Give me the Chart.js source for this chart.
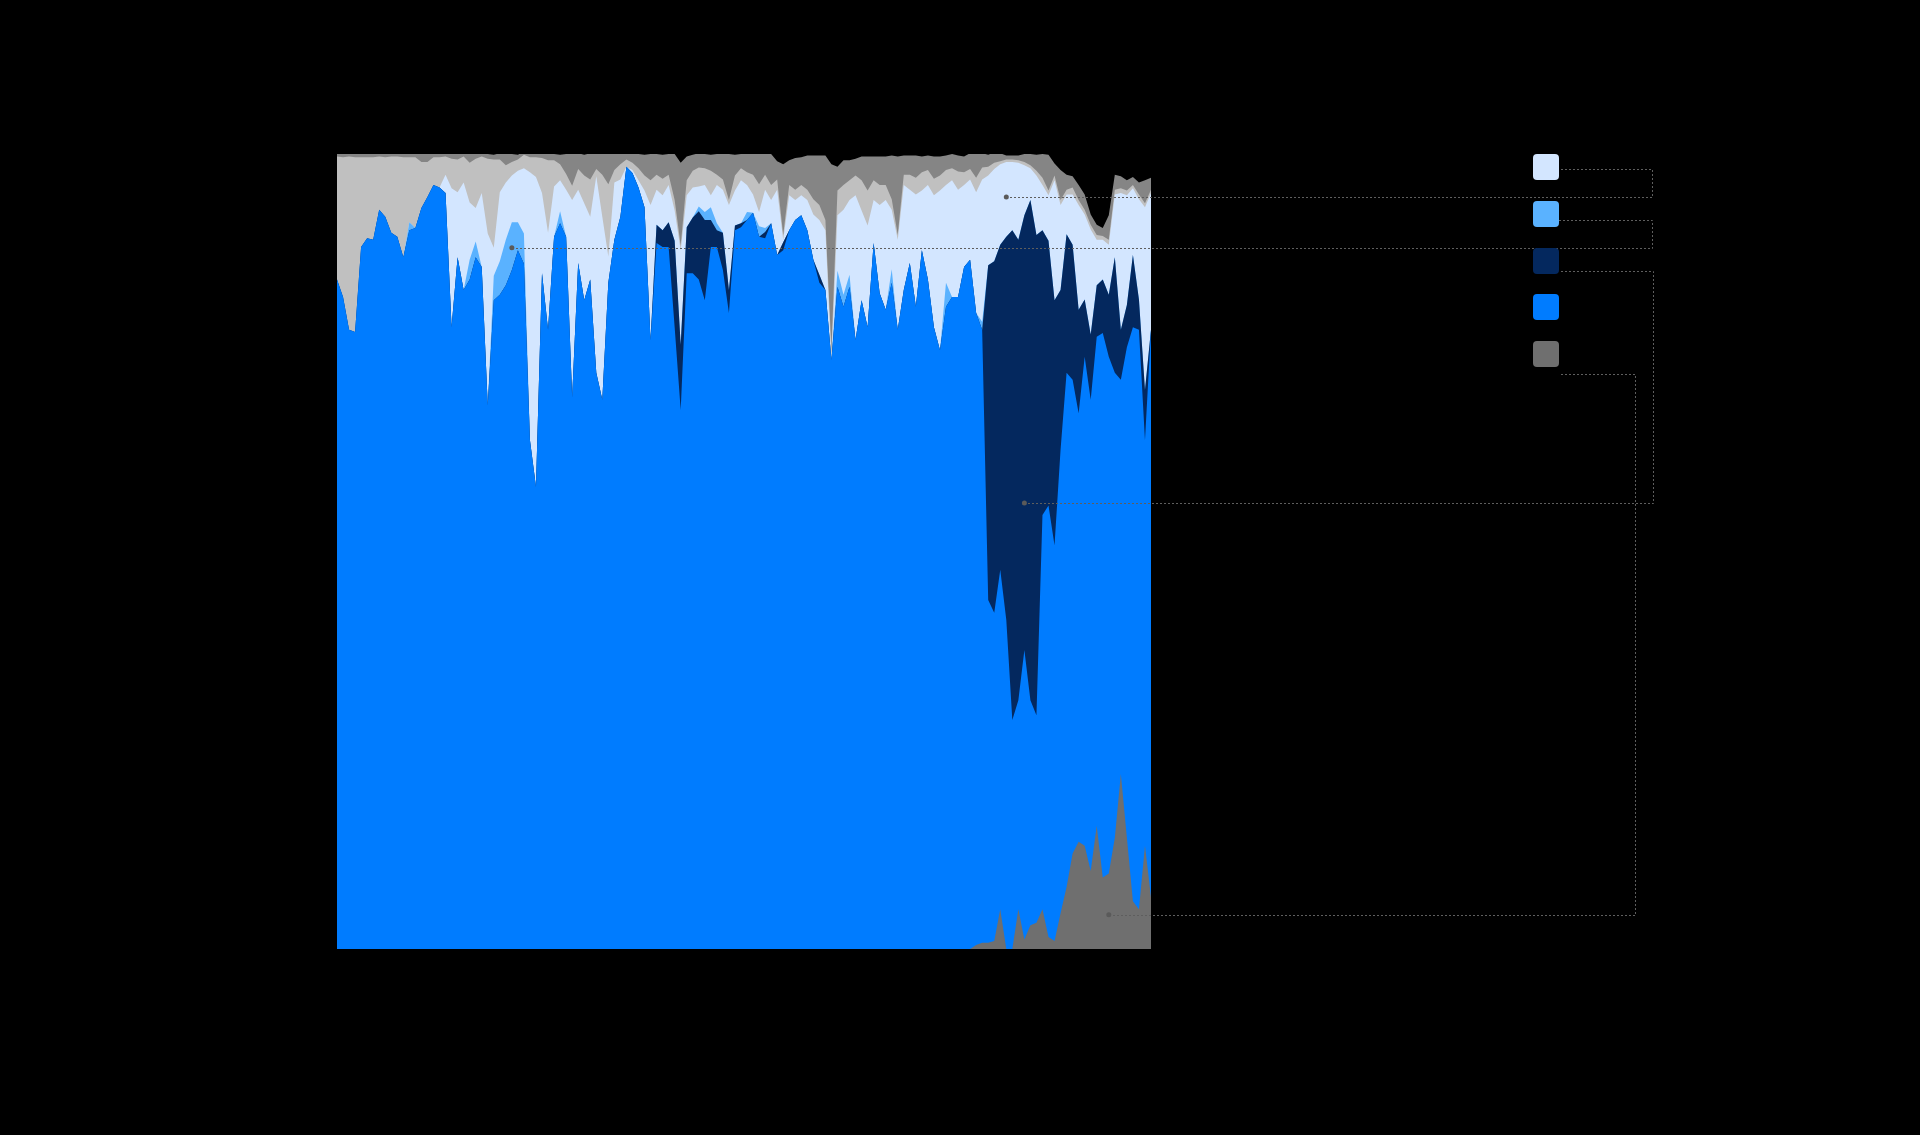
<!DOCTYPE html>
<html>
<head>
<meta charset="utf-8">
<style>
  html, body { margin: 0; padding: 0; background: #000; }
  canvas { display: block; }
</style>
<script src="https://cdn.jsdelivr.net/npm/chart.js@4/dist/chart.umd.min.js"></script>
</head>
<body>
<canvas id="areaChart" width="1920" height="1135"></canvas>
<script>
// Share of the total per sample (%), bottom layer first
var gray = [
  0, 0, 0, 0, 0, 0, 0, 0, 0, 0,
  0, 0, 0, 0, 0, 0, 0, 0, 0, 0,
  0, 0, 0, 0, 0, 0, 0, 0, 0, 0,
  0, 0, 0, 0, 0, 0, 0, 0, 0, 0,
  0, 0, 0, 0, 0, 0, 0, 0, 0, 0,
  0, 0, 0, 0, 0, 0, 0, 0, 0, 0,
  0, 0, 0, 0, 0, 0, 0, 0, 0, 0,
  0, 0, 0, 0, 0, 0, 0, 0, 0, 0,
  0, 0, 0, 0, 0, 0, 0, 0, 0, 0,
  0, 0, 0, 0, 0, 0, 0, 0, 0, 0,
  0, 0, 0, 0, 0, 0, 0.5, 0.8, 0.8, 1.0,
  5.0, 0, 0, 5.0, 1.2, 3.0, 3.3, 5.0, 1.5, 1.0,
  4.5, 7.8, 12.0, 13.5, 13.0, 9.8, 15.5, 9.0, 9.5, 14.0,
  22.0, 14.0, 6.0, 5.0, 13.0, 6.5
];
var blue = [
  84.2, 82.0, 77.9, 77.6, 88.3, 89.4, 89.2, 93.0, 92.1, 90.1,
  89.6, 87.0, 90.4, 90.7, 93.2, 94.6, 96.1, 95.8, 95.1, 78.2,
  87.0, 82.9, 84.2, 87.0, 85.8, 68.4, 81.6, 82.3, 83.5, 85.4,
  87.9, 86.2, 64.0, 58.1, 85.0, 77.9, 89.6, 91.3, 89.6, 69.4,
  86.3, 81.6, 84.2, 72.5, 69.1, 83.8, 89.2, 92.1, 98.4, 97.6,
  95.8, 93.3, 76.6, 88.8, 88.3, 88.3, 78.2, 67.8, 85.0, 85.0,
  84.2, 81.6, 88.3, 88.3, 85.4, 80.0, 90.4, 90.8, 91.7, 92.6,
  89.6, 89.4, 91.3, 87.3, 87.9, 90.4, 91.7, 92.3, 90.4, 86.7,
  83.8, 82.9, 74.1, 83.3, 80.8, 83.3, 76.6, 81.6, 78.2, 88.8,
  82.5, 80.4, 83.8, 77.9, 82.9, 86.3, 80.8, 87.9, 84.2, 78.2,
  75.3, 80.8, 82.0, 82.0, 85.8, 86.7, 79.5, 77.1, 43.1, 41.3,
  42.7, 41.4, 28.8, 26.3, 36.4, 28.3, 26.1, 49.6, 54.3, 49.8,
  58.3, 64.7, 59.6, 53.9, 61.5, 59.3, 61.5, 68.5, 65.0, 58.5,
  49.6, 61.7, 72.2, 72.9, 51.0, 71.4
];
var navy = [
  0, 0, 0, 0, 0, 0, 0, 0, 0, 0,
  0, 0, 0, 0, 0, 0, 0, 0, 0, 0,
  0, 0, 0, 0, 0, 0, 0, 0, 0, 0,
  0, 0, 0, 0, 0, 0, 0, 0, 0, 0,
  0, 0, 0, 0, 0, 0, 0, 0, 0, 0,
  0, 0, 0, 2.3, 2.1, 3.1, 10.9, 8.2, 5.8, 7.0,
  8.6, 10.1, 3.4, 2.1, 4.7, 2.9, 0.6, 0.5, 0, 0,
  0, 0.8, 0, 0, 1.0, 0, 0, 0, 0, 0,
  1.0, 0, 0, 0, 0, 0, 0, 0, 0, 0,
  0, 0, 0, 0, 0, 0, 0, 0, 0, 0,
  0, 0, 0, 0, 0, 0, 0, 0, 42.1, 44.2,
  40.9, 48.2, 61.6, 57.9, 54.7, 62.9, 60.4, 35.8, 33.3, 30.8,
  20.1, 17.4, 17.0, 13.0, 7.2, 8.2, 6.5, 6.7, 7.8, 14.5,
  6.3, 5.3, 9.1, 3.8, 6.3, 0
];
var lightBlue = [
  0, 0, 0, 0, 0, 0, 0, 0, 0, 0,
  0, 0, 1.0, 0, 0, 0, 0, 0, 0, 0,
  0, 0, 2.5, 2.0, 0, 0, 3.1, 4.2, 5.7, 6.0,
  3.5, 3.8, 0, 0, 0, 0, 0, 1.5, 0, 0,
  0, 0, 0, 0, 0, 0, 0, 0, 0, 0,
  0, 0, 0, 0, 0, 0, 0, 0, 0, 0,
  0.6, 1.0, 1.6, 0.9, 0, 0, 0, 0, 1.0, 0,
  1.3, 0.5, 0, 0, 0, 0, 0, 0, 0, 0,
  0, 0, 0, 2.0, 1.5, 1.5, 0, 0, 0, 0,
  0, 0, 1.7, 0, 0, 0, 0, 0, 0, 0,
  0, 3.0, 0, 0, 0, 0, 0, 1.0, 0, 0,
  0, 0, 0, 0, 0, 0, 0, 0, 0, 0,
  0, 0, 0, 0, 0, 0, 0, 0, 0, 0,
  0, 0, 0, 0, 0, 0
];
var veryLight = [
  0, 0, 0, 0, 0, 0, 0, 0, 0, 0,
  0, 0, 0, 0, 0, 0, 0, 0, 2.3, 17.5,
  8.2, 13.5, 7.2, 4.2, 9.3, 21.6, 3.5, 8.7, 7.2, 5.9,
  6.5, 8.2, 33.7, 39.0, 10.1, 12.2, 6.3, 3.9, 5.9, 24.8,
  9.2, 12.2, 7.9, 24.7, 23.0, 3.3, 7.2, 4.7, 0, 0.4,
  0.9, 2.1, 17.0, 4.4, 4.4, 4.7, 3.8, 11.9, 4.0, 3.8,
  2.5, 3.4, 1.5, 4.8, 5.4, 10.7, 4.4, 5.4, 3.4, 2.3,
  1.8, 4.8, 2.9, 8.2, 0.3, 4.4, 2.5, 2.5, 3.8, 5.7,
  6.9, 7.5, 0, 7.0, 10.7, 9.4, 18.2, 11.3, 12.8, 5.4,
  11.1, 13.8, 7.5, 11.3, 13.2, 9.2, 14.1, 7.5, 11.9, 16.6,
  20.1, 12.3, 14.7, 13.5, 10.3, 10.1, 15.2, 17.9, 11.3, 11.6,
  10.1, 9.4, 8.6, 9.7, 6.3, 4.0, 7.5, 5.7, 5.7, 15.1,
  10.7, 5.0, 6.3, 13.2, 10.7, 13.2, 5.7, 5.0, 6.3, 7.9,
  17.2, 13.8, 8.4, 12.6, 23.0, 17.2
];
var lightGray = [
  15.5, 17.6, 21.8, 22.0, 11.3, 10.2, 10.4, 6.7, 7.5, 9.6,
  10.1, 12.6, 8.2, 8.9, 5.8, 4.4, 3.5, 3.8, 2.3, 3.7,
  4.1, 3.3, 5.0, 6.2, 4.6, 9.4, 11.1, 4.1, 2.2, 1.7,
  1.4, 1.7, 1.9, 2.5, 4.4, 9.1, 3.3, 2.0, 2.0, 1.8,
  2.6, 3.5, 4.7, 0.9, 5.3, 9.1, 1.6, 1.9, 0.9, 0.9,
  1.5, 1.9, 3.1, 1.9, 2.1, 1.3, 1.3, 0.6, 1.9, 2.1,
  2.4, 2.1, 3.1, 1.3, 1.3, 0.6, 1.9, 1.5, 1.6, 2.5,
  3.5, 1.9, 1.9, 1.3, 0.6, 1.3, 1.3, 1.3, 1.3, 1.9,
  1.9, 1.3, 1.3, 3.1, 3.1, 2.5, 2.5, 3.8, 4.4, 2.5,
  2.5, 1.9, 1.3, 0.6, 1.3, 1.9, 2.1, 2.3, 1.9, 2.1,
  1.9, 1.9, 1.5, 2.3, 1.6, 1.3, 1.8, 1.5, 1.1, 0.8,
  0.4, 0.3, 0.3, 0.3, 0.4, 0.4, 0.6, 0.9, 0.6, 0.6,
  0.6, 0.6, 0.9, 0.6, 0.6, 0.6, 0.6, 0.5, 0.6, 0.6,
  0.6, 0.6, 0.4, 0.6, 0.5, 0.4
];
var midGray = [
  0.4, 0.4, 0.4, 0.4, 0.4, 0.4, 0.4, 0.4, 0.4, 0.4,
  0.4, 0.4, 0.4, 0.4, 1.0, 1.0, 0.4, 0.4, 0.4, 0.6,
  0.7, 0.4, 1.2, 0.6, 0.4, 0.6, 0.6, 0.8, 1.5, 1.0,
  0.6, 0.4, 0.4, 0.4, 0.5, 0.8, 0.8, 1.2, 2.5, 4.0,
  2.0, 2.6, 3.3, 2.0, 2.6, 3.9, 2.0, 1.4, 0.8, 1.1,
  1.8, 2.6, 3.3, 2.6, 3.0, 2.6, 5.8, 10.4, 3.0, 2.0,
  1.8, 1.8, 2.0, 2.6, 3.3, 5.8, 2.6, 1.8, 2.3, 2.6,
  3.9, 2.6, 3.9, 2.3, 8.9, 3.1, 4.0, 3.5, 4.3, 5.5,
  6.2, 8.1, 23.3, 3.0, 3.1, 2.5, 2.1, 3.0, 4.3, 3.0,
  3.6, 3.6, 5.5, 9.9, 2.4, 2.4, 2.8, 2.0, 1.8, 2.8,
  2.4, 1.8, 1.8, 2.0, 2.0, 2.0, 3.0, 1.8, 1.5, 1.3,
  1.0, 0.5, 0.5, 0.6, 1.0, 1.4, 2.0, 3.0, 4.5, 1.5,
  3.8, 1.9, 1.4, 1.9, 1.9, 1.3, 1.3, 1.0, 3.1, 1.9,
  1.5, 1.3, 1.0, 1.5, 2.9, 1.5
];

// x categories are just sample numbers (no labels are shown)
var categories = blue.map(function (v, i) { return i + 1; });

// dotted callouts: legend row -> sample index and value (%) on the chart
var callouts = [
  { row: 0, index: 111, value: 94.6 },
  { row: 1, index: 29, value: 88.2 },
  { row: 2, index: 114, value: 56.1 },
  { row: 4, index: 128, value: 4.3 }
];

var colors = {
  gray: '#6f6f6f',
  blue: '#007cff',
  navy: '#04285e',
  lightBlue: '#5ab2ff',
  veryLight: '#d3e6ff',
  lightGray: '#c0c0c0',
  midGray: '#858585'
};

function layer(data, color, inLegend) {
  return {
    data: data,
    backgroundColor: color,
    borderWidth: 0,
    pointRadius: 0,
    fill: 'origin',
    inLegend: inLegend
  };
}

var datasets = [
  layer(gray, colors.gray, true),
  layer(blue, colors.blue, true),
  layer(navy, colors.navy, true),
  layer(lightBlue, colors.lightBlue, true),
  layer(veryLight, colors.veryLight, true),
  layer(lightGray, colors.lightGray, false),
  layer(midGray, colors.midGray, false)
];

// legend boxes on the right, top row = top layer
var legendBox = { x: 1533, top: 154, step: 46.8, size: 26, radius: 4 };
var legendRows = [4, 3, 2, 1, 0];
// where each callout leaves its legend row and turns down
var calloutRoute = {
  0: { dy: 15, turnX: 1652 },
  1: { dy: 19, turnX: 1652 },
  2: { dy: 23, turnX: 1653 },
  4: { dy: 33, turnX: 1635 }
};

var legendAndCallouts = {
  id: 'legendAndCallouts',
  afterDraw: function (chart) {
    var ctx = chart.ctx;
    var xs = chart.scales.x;
    var ys = chart.scales.y;
    ctx.save();

    // dotted leader lines
    ctx.strokeStyle = '#5e5e5e';
    ctx.lineWidth = 1;
    ctx.setLineDash([2, 2]);
    callouts.forEach(function (c) {
      var route = calloutRoute[c.row];
      var px = Math.round(xs.getPixelForValue(c.index));
      var py = Math.round(ys.getPixelForValue(c.value)) + 0.5;
      var ly = Math.round(legendBox.top + c.row * legendBox.step + route.dy) + 0.5;
      var tx = route.turnX + 0.5;
      ctx.beginPath();
      ctx.moveTo(px, py);
      ctx.lineTo(tx, py);
      ctx.lineTo(tx, ly);
      ctx.lineTo(legendBox.x + legendBox.size, ly);
      ctx.stroke();
    });
    ctx.setLineDash([]);

    // anchor dots
    ctx.fillStyle = '#5a5a5a';
    callouts.forEach(function (c) {
      ctx.beginPath();
      ctx.arc(xs.getPixelForValue(c.index), ys.getPixelForValue(c.value), 2.5, 0, Math.PI * 2);
      ctx.fill();
    });

    // legend swatches
    legendRows.forEach(function (dsIndex, row) {
      var top = Math.round(legendBox.top + row * legendBox.step);
      ctx.fillStyle = chart.data.datasets[dsIndex].backgroundColor;
      ctx.beginPath();
      ctx.roundRect(legendBox.x, top, legendBox.size, legendBox.size, legendBox.radius);
      ctx.fill();
    });
    ctx.restore();
  }
};

var ctx = document.getElementById('areaChart').getContext('2d');
var areaChart = new Chart(ctx, {
  type: 'line',
  data: { labels: categories, datasets: datasets },
  options: {
    responsive: false,
    animation: false,
    layout: { padding: { left: 337, top: 154, right: 769, bottom: 186 } },
    elements: { line: { tension: 0 } },
    plugins: {
      legend: { display: false },
      tooltip: { enabled: false }
    },
    scales: {
      x: { display: false, offset: false },
      y: { display: false, stacked: true, min: 0, max: 100 }
    }
  },
  plugins: [legendAndCallouts]
});
</script>
</body>
</html>
